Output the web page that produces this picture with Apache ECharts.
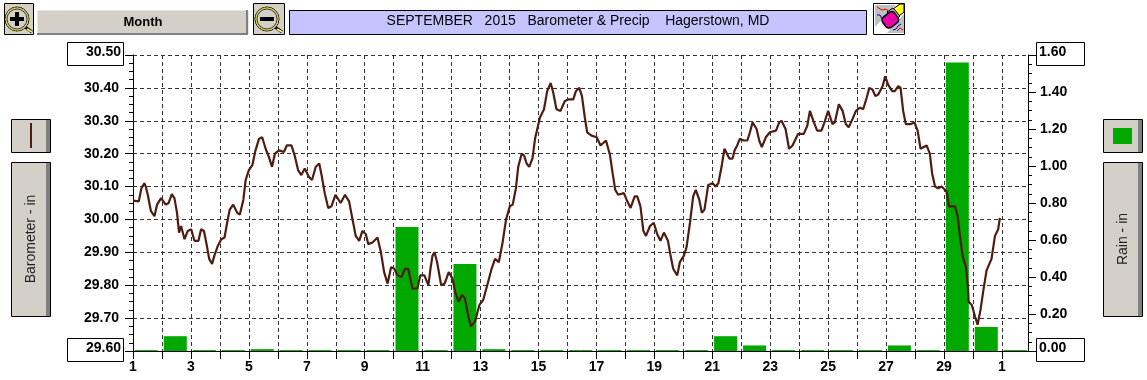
<!DOCTYPE html>
<html>
<head>
<meta charset="utf-8">
<title>Barometer & Precip</title>
<style>
	html, body { margin: 0; padding: 0; background: #fff; }
	#main { width: 1147px; height: 380px; }
</style>
<script src="https://cdn.jsdelivr.net/npm/echarts@6/dist/echarts.min.js"></script>
</head>
<body>
<div id="main"></div>
<script>
// day labels under each tick, 31 cells (Sep 1 .. Oct 1)
var dayLabels = ['1','','3','','5','','7','','9','','11','','13','','15','','17','','19','','21','','23','','25','','27','','29','','1',''];
var titleText = 'SEPTEMBER   2015   Barometer & Precip    Hagerstown, MD';

// rain per day, inches
var rain = [0.005,0.08,0.005,0.005,0.01,0.005,0.005,0.005,0.005,0.67,0.005,0.47,0.01,0.005,0.005,0.005,0.005,0.005,0.005,0.005,0.08,0.03,0.005,0.005,0.005,0.005,0.03,0.005,1.56,0.13,0.005];

// barometer trace: time in days since Sep 1, pressure in inches
var baroTime = [0,0.2,0.29,0.39,0.44,0.51,0.62,0.74,0.83,0.97,1.13,1.23,1.34,1.43,1.52,1.59,1.66,1.78,1.89,2.01,2.12,2.26,2.35,2.45,2.54,2.63,2.73,2.81,2.93,3.05,3.16,3.25,3.34,3.46,3.6,3.69,3.81,3.89,4,4.12,4.23,4.35,4.46,4.58,4.69,4.8,4.9,5.04,5.21,5.31,5.47,5.58,5.7,5.81,5.93,6.07,6.18,6.31,6.43,6.51,6.62,6.74,6.85,6.99,7.17,7.32,7.46,7.58,7.69,7.81,7.92,8.04,8.12,8.27,8.44,8.56,8.67,8.79,8.91,9.02,9.13,9.27,9.39,9.5,9.65,9.82,9.92,10.06,10.2,10.27,10.34,10.41,10.5,10.64,10.76,10.9,11.03,11.12,11.24,11.36,11.46,11.58,11.67,11.81,11.96,12.09,12.23,12.38,12.5,12.63,12.76,12.88,13.01,13.11,13.22,13.3,13.42,13.5,13.59,13.68,13.79,13.88,14.05,14.19,14.3,14.42,14.51,14.62,14.76,14.91,15.03,15.2,15.29,15.41,15.5,15.6,15.68,15.83,16.01,16.14,16.33,16.47,16.56,16.65,16.75,16.95,17.04,17.18,17.32,17.41,17.52,17.62,17.71,17.85,17.98,18.1,18.21,18.33,18.47,18.56,18.65,18.79,18.88,19.02,19.11,19.23,19.34,19.43,19.55,19.64,19.73,19.86,20.01,20.12,20.21,20.32,20.42,20.59,20.7,20.77,20.86,20.95,21.09,21.21,21.3,21.39,21.53,21.62,21.71,21.85,21.99,22.2,22.31,22.39,22.53,22.65,22.77,22.96,23.16,23.28,23.37,23.49,23.62,23.77,23.89,24,24.15,24.23,24.37,24.5,24.61,24.71,24.84,24.96,25.1,25.21,25.33,25.42,25.53,25.63,25.73,25.88,25.97,26.07,26.21,26.3,26.42,26.5,26.59,26.68,26.85,26.98,27.09,27.19,27.4,27.51,27.59,27.69,27.8,27.92,28.09,28.17,28.38,28.47,28.55,28.64,28.76,28.83,28.85,28.96,29.07,29.16,29.26,29.36,29.47,29.64,29.76,29.87,29.93];
var baroIn = [30.057,30.055,30.095,30.11,30.1,30.075,30.025,30.01,30.045,30.065,30.045,30.05,30.077,30.065,30.02,29.96,29.98,29.94,29.965,29.97,29.935,29.935,29.97,29.965,29.925,29.88,29.865,29.89,29.92,29.94,29.945,29.99,30.03,30.045,30.02,30.015,30.06,30.12,30.15,30.165,30.21,30.245,30.25,30.215,30.19,30.16,30.2,30.21,30.205,30.225,30.225,30.195,30.15,30.135,30.155,30.13,30.12,30.16,30.17,30.135,30.08,30.035,30.04,30.075,30.05,30.075,30.055,30,29.95,29.935,29.965,29.955,29.925,29.93,29.945,29.9,29.84,29.805,29.855,29.85,29.83,29.825,29.85,29.85,29.79,29.79,29.83,29.83,29.8,29.85,29.89,29.9,29.87,29.8,29.805,29.84,29.82,29.78,29.75,29.77,29.76,29.705,29.675,29.69,29.74,29.755,29.8,29.85,29.88,29.87,29.93,30,30.04,30.045,30.095,30.16,30.2,30.195,30.17,30.16,30.185,30.245,30.31,30.335,30.39,30.415,30.385,30.335,30.33,30.36,30.365,30.365,30.39,30.4,30.375,30.31,30.265,30.255,30.25,30.225,30.24,30.195,30.14,30.09,30.075,30.08,30.06,30.035,30.07,30.07,30.04,29.965,29.95,29.98,29.99,29.955,29.935,29.96,29.935,29.89,29.85,29.83,29.87,29.89,29.915,29.99,30.07,30.09,30.06,30.02,30.03,30.105,30.11,30.1,30.11,30.16,30.215,30.185,30.185,30.21,30.225,30.245,30.24,30.24,30.265,30.295,30.275,30.24,30.22,30.25,30.265,30.27,30.295,30.3,30.275,30.215,30.225,30.26,30.26,30.285,30.33,30.3,30.27,30.27,30.3,30.33,30.29,30.295,30.35,30.33,30.29,30.28,30.305,30.33,30.34,30.335,30.37,30.4,30.395,30.375,30.38,30.405,30.435,30.41,30.39,30.39,30.405,30.4,30.33,30.29,30.29,30.295,30.27,30.215,30.225,30.2,30.14,30.1,30.095,30.1,30.085,30.04,30.04,30.01,29.95,29.89,29.855,29.79,29.75,29.74,29.705,29.68,29.725,29.785,29.845,29.88,29.95,29.97,30.005];

var GRID_LEFT = 133, GRID_TOP = 55, GRID_W = 895, GRID_H = 296;
var BTN = '#d4d0c8', SHADE = '#808080', BROWN = '#4f1c12', GREEN = '#00a800';
var AXIS_FONT = { fontFamily: 'Liberation Sans', fontWeight: 'bold', fontSize: 14, color: '#000' };

function rect(x, y, w, h, fill, stroke) {
	return { type: 'rect', silent: true, shape: { x: x + 0.5, y: y + 0.5, width: w, height: h }, style: { fill: fill, stroke: stroke || null, lineWidth: 1 } };
}

function label(x, y, text, align, font) {
	return { type: 'text', silent: true, x: x, y: y, z: 5, style: { text: text, align: align, verticalAlign: 'middle', font: font, fill: '#000' } };
}

// square button with a magnifying glass, plus or minus
function zoomButton(x, w, plus) {
	var cx = x + (w - 3) / 2, cy = 19, out = [];
	out.push(rect(x, 3, w, 31, BTN, '#000'));
	out.push({ type: 'line', silent: true, shape: { x1: cx + 8, y1: cy + 8, x2: cx + 15, y2: cy + 13 }, style: { stroke: '#000', lineWidth: 3 } });
	out.push({ type: 'line', silent: true, shape: { x1: cx + 10, y1: cy + 10, x2: cx + 15, y2: cy + 13 }, style: { stroke: '#f0f070', lineWidth: 2 } });
	out.push({ type: 'circle', silent: true, shape: { cx: cx, cy: cy, r: 12 }, style: { fill: BTN, stroke: '#000', lineWidth: 1 } });
	out.push({ type: 'circle', silent: true, shape: { cx: cx, cy: cy, r: 11 }, style: { fill: BTN, stroke: '#d8d400', lineWidth: 1.5, lineDash: [2, 1] } });
	out.push({ type: 'circle', silent: true, shape: { cx: cx, cy: cy, r: 10 }, style: { fill: BTN, stroke: '#000', lineWidth: 0.7 } });
	out.push({ type: 'rect', silent: true, shape: { x: cx - 7, y: cy - 2, width: 14, height: 4 }, style: { fill: '#000' } });
	if (plus) {
		out.push({ type: 'rect', silent: true, shape: { x: cx - 2, y: cy - 7, width: 4, height: 14 }, style: { fill: '#000' } });
	}
	return out;
}

// the erase / clear button, right of the title
function eraserButton() {
	var out = [];
	out.push(rect(873, 3, 31, 31, '#fff', '#000'));
	out.push({ type: 'polygon', silent: true, shape: { points: [[875, 5], [896, 5], [875, 27]] }, style: { fill: '#c0c0c0' } });
	out.push({ type: 'polygon', silent: true, shape: { points: [[904, 14], [904, 33], [887, 33]] }, style: { fill: '#c0c0c0' } });
	out.push({ type: 'polyline', silent: true, shape: { points: [[877, 7], [882, 10], [886, 9], [889, 12]] }, style: { stroke: '#e00000', lineWidth: 1 } });
	out.push({ type: 'polyline', silent: true, shape: { points: [[877, 15], [880, 15], [882, 19], [885, 18]] }, style: { stroke: '#0000e0', lineWidth: 1 } });
	out.push({ type: 'polyline', silent: true, shape: { points: [[893, 30], [896, 29], [898, 26], [901, 24]] }, style: { stroke: '#0000e0', lineWidth: 1 } });
	out.push({ type: 'polyline', silent: true, shape: { points: [[897, 31], [900, 28], [903, 30]] }, style: { stroke: '#e00000', lineWidth: 1 } });
	out.push({ type: 'polygon', silent: true, shape: { points: [[893, 9], [900, 4], [904, 4], [904, 12], [899, 16]] }, style: { fill: '#ffff20', stroke: '#000', lineWidth: 1 } });
	out.push({ type: 'polygon', silent: true, shape: { points: [[887, 12], [893, 8], [900, 16], [895, 21]] }, style: { fill: '#a8a8a8', stroke: '#000', lineWidth: 1 } });
	out.push({ type: 'rect', silent: true, x: 891, y: 20, rotation: 0.65, shape: { x: -8, y: -7, width: 15, height: 13, r: 4 }, style: { fill: '#e800a8', stroke: '#000', lineWidth: 1.5 } });
	return out;
}

// the raised side button, gray strip on the right
function sideButton(x, y, w, h) {
	return [
		rect(x, y, w, h, BTN, '#000'),
		{ type: 'rect', silent: true, shape: { x: x + w - 4, y: y + 1, width: 4, height: h - 1 }, style: { fill: SHADE } }
	];
}

function rotated(x, y, text) {
	return { type: 'text', silent: true, x: x, y: y, rotation: Math.PI / 2, z: 5, style: { text: text, align: 'center', verticalAlign: 'middle', font: '14px "Liberation Sans"', fill: '#222' } };
}

function chrome() {
	var g = [];
	g = g.concat(zoomButton(4, 29, true));
	g.push(rect(37, 10, 211, 24, BTN, null));
	g.push({ type: 'rect', silent: true, shape: { x: 246, y: 10, width: 2, height: 24 }, style: { fill: SHADE } });
	g.push({ type: 'rect', silent: true, shape: { x: 37, y: 33, width: 211, height: 2 }, style: { fill: SHADE } });
	g.push(label(143, 22, 'Month', 'center', 'bold 13px "Liberation Sans"'));
	g = g.concat(zoomButton(253, 31, false));
	g.push(rect(289, 10, 577, 24, '#c4c4ff', '#000'));
	g.push(label(578, 21, titleText, 'center', '14px "Liberation Sans"'));
	g = g.concat(eraserButton());

	g = g.concat(sideButton(11, 119, 39, 33));
	g.push({ type: 'rect', silent: true, shape: { x: 30, y: 123, width: 2, height: 25 }, style: { fill: BROWN } });
	g = g.concat(sideButton(11, 162, 39, 154));
	g.push(rotated(31, 239, 'Barometer - in'));

	g = g.concat(sideButton(1103, 119, 39, 33));
	g.push({ type: 'rect', silent: true, shape: { x: 1113, y: 128, width: 19, height: 16 }, style: { fill: GREEN } });
	g = g.concat(sideButton(1103, 162, 39, 154));
	g.push(rotated(1123, 239, 'Rain - in'));

	// boxes around the top and bottom value of each axis
	var bold = 'bold 14px "Liberation Sans"';
	g.push(rect(67, 42, 56, 23, '#fff', '#000'));
	g.push(label(121, 52, '30.50', 'right', bold));
	g.push(rect(67, 338, 56, 23, '#fff', '#000'));
	g.push(label(121, 348, '29.60', 'right', bold));
	g.push(rect(1036, 42, 48, 23, '#fff', '#000'));
	g.push(label(1039, 52, '1.60', 'left', bold));
	g.push(rect(1036, 338, 48, 23, '#fff', '#000'));
	g.push(label(1039, 348, '0.00', 'left', bold));
	return g;
}

var chart = echarts.init(document.getElementById('main'), null, { renderer: 'canvas' });
var barData = rain.map(function (v, i) { return [i + 0.46, v]; });
var lineData = baroIn.map(function (v, i) { return [baroTime[i], v]; });

var option = {
	animation: false,
	backgroundColor: '#fff',
	grid: { left: GRID_LEFT, top: GRID_TOP, width: GRID_W, height: GRID_H, containLabel: false },
	xAxis: {
		type: 'value',
		min: 0,
		max: 30.9, // the last cell of the source plot is a little narrower
		interval: 1,
		axisLine: { onZero: false, lineStyle: { color: '#000', width: 1 } },
		axisTick: { length: 8, lineStyle: { color: '#000', width: 1 } },
		axisLabel: Object.assign({ margin: 9, showMaxLabel: false, formatter: function (v) { return dayLabels[v] || ''; } }, AXIS_FONT),
		splitLine: { show: true, lineStyle: { color: '#333', width: 1, type: [4, 3] } }
	},
	yAxis: [{
		type: 'value',
		min: 29.6,
		max: 30.5,
		interval: 0.1,
		axisLine: { show: true, onZero: false, lineStyle: { color: '#000', width: 1 } },
		axisTick: { show: true, length: 8, lineStyle: { color: '#000', width: 1 } },
		minorTick: { show: true, splitNumber: 4, length: 4, lineStyle: { color: '#000', width: 1 } },
		axisLabel: Object.assign({ margin: 14, showMinLabel: false, showMaxLabel: false, formatter: function (v) { return v.toFixed(2); } }, AXIS_FONT),
		splitLine: { show: true, lineStyle: { color: '#333', width: 1, type: [4, 3] } }
	}, {
		type: 'value',
		position: 'right',
		min: 0,
		max: 1.6,
		interval: 0.2,
		axisLine: { show: true, onZero: false, lineStyle: { color: '#000', width: 1 } },
		axisTick: { show: true, length: 8, lineStyle: { color: '#000', width: 1 } },
		minorTick: { show: true, splitNumber: 4, length: 4, lineStyle: { color: '#000', width: 1 } },
		axisLabel: Object.assign({ margin: 12, showMinLabel: false, showMaxLabel: false, formatter: function (v) { return v.toFixed(2); } }, AXIS_FONT),
		splitLine: { show: false }
	}],
	graphic: chrome(),
	series: [{
		name: 'Rain',
		type: 'bar',
		yAxisIndex: 1,
		barWidth: 23,
		itemStyle: { color: GREEN },
		data: barData,
		z: 2
	}, {
		name: 'Barometer',
		type: 'line',
		yAxisIndex: 0,
		showSymbol: false,
		symbol: 'none',
		lineStyle: { color: BROWN, width: 2.2 },
		data: lineData,
		z: 3
	}]
};
chart.setOption(option);
</script>
</body>
</html>
